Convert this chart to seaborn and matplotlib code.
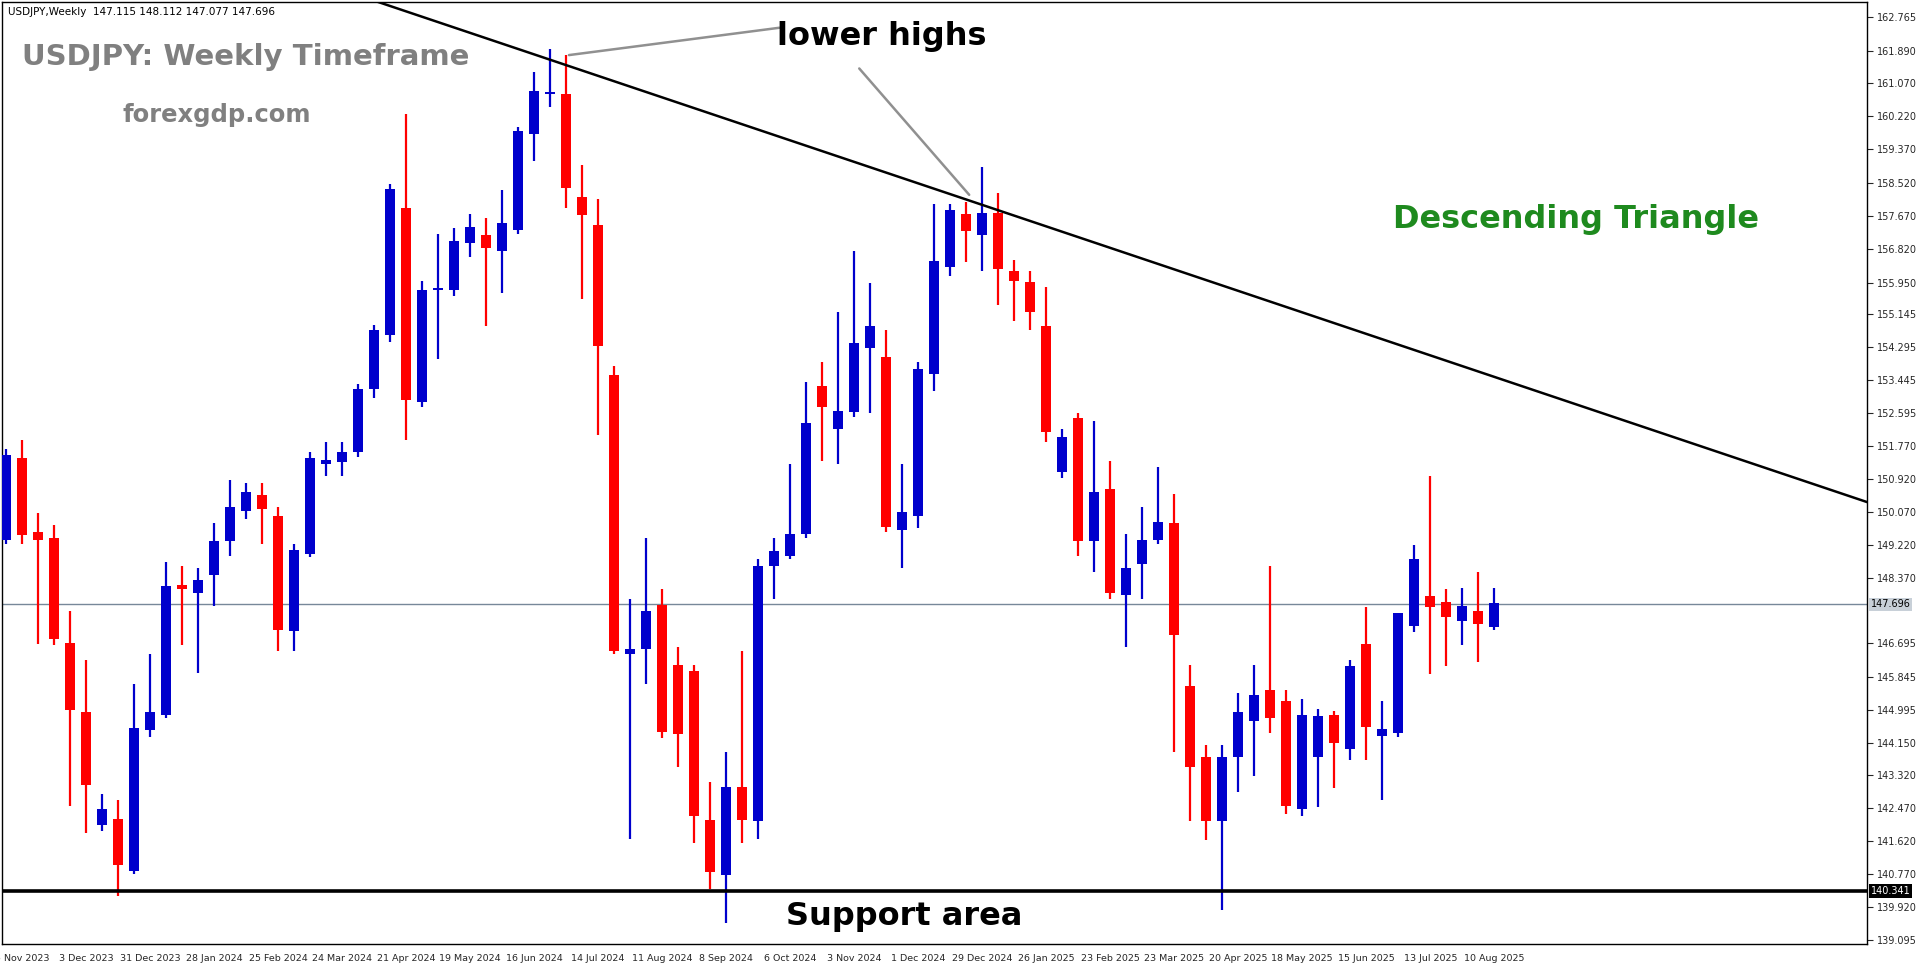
import numpy as np
import pandas as pd
import matplotlib
matplotlib.use("Agg")
import matplotlib.pyplot as plt
import seaborn as sns

# weekly USDJPY candles, first bar = week of 29 Oct 2023
opens = [149.35, 151.45, 149.54, 149.41, 146.71, 144.93, 142.04, 142.20, 140.85, 144.46,
         144.86, 148.19, 147.99, 148.44, 149.32, 150.10, 150.51, 149.97, 147.00, 149.00,
         151.30, 151.35, 151.60, 153.23, 154.61, 157.87, 152.89, 155.75, 155.77, 156.97,
         157.18, 156.75, 157.31, 159.76, 160.78, 160.80, 158.16, 157.44, 153.58, 146.43,
         146.56, 147.69, 146.15, 145.99, 142.17, 140.76, 143.01, 142.14, 148.69, 148.94,
         149.50, 153.30, 152.20, 152.64, 154.27, 154.05, 149.60, 149.97, 153.61, 156.34,
         157.72, 157.18, 157.75, 156.24, 155.96, 154.83, 151.10, 152.48, 149.32, 150.66,
         147.94, 148.72, 149.35, 149.79, 145.59, 143.77, 142.14, 143.77, 144.70, 145.49,
         145.21, 142.45, 143.77, 144.86, 143.99, 146.68, 144.33, 144.39, 147.15, 147.90,
         147.75, 147.28, 147.53, 147.12]
highs = [151.67, 151.92, 150.04, 149.72, 147.53, 146.28, 142.83, 142.67, 145.66, 146.43,
         148.78, 148.69, 148.62, 149.79, 150.88, 150.82, 150.82, 150.19, 149.25, 151.60,
         151.86, 151.86, 153.36, 154.87, 158.47, 160.29, 155.99, 157.20, 157.35, 157.72,
         157.62, 158.34, 159.94, 161.35, 161.95, 161.79, 158.97, 158.09, 153.80, 147.84,
         149.41, 148.09, 146.59, 146.15, 143.14, 143.92, 146.49, 148.85, 149.41, 151.29,
         153.39, 153.92, 155.21, 156.75, 155.93, 154.74, 151.29, 153.92, 157.97, 157.97,
         158.03, 158.91, 158.25, 156.53, 156.24, 155.84, 152.20, 152.60, 152.39, 151.38,
         149.50, 150.19, 151.23, 150.54, 146.15, 144.08, 144.08, 145.43, 146.15, 148.69,
         145.49, 145.27, 145.00, 144.96, 146.28, 147.62, 145.21, 147.47, 149.22, 150.98,
         148.09, 148.12, 148.53, 148.12]
lows = [149.25, 149.25, 146.68, 146.65, 142.51, 141.82, 141.89, 140.22, 140.79, 144.30,
        144.77, 146.65, 145.93, 147.65, 148.94, 149.88, 149.25, 146.49, 146.49, 148.90,
        151.00, 150.98, 151.48, 153.00, 154.43, 151.92, 152.76, 154.00, 155.60, 156.60,
        154.83, 155.68, 157.20, 159.07, 160.45, 157.87, 155.52, 152.04, 146.43, 141.67,
        145.65, 144.27, 143.52, 141.57, 140.38, 139.53, 141.57, 141.67, 147.84, 148.85,
        149.41, 151.38, 151.29, 152.51, 152.61, 149.54, 148.62, 149.66, 153.17, 156.12,
        156.47, 156.25, 155.37, 154.96, 154.74, 151.86, 150.95, 148.94, 148.53, 147.84,
        146.59, 147.84, 149.25, 143.92, 142.14, 141.64, 139.85, 142.89, 143.30, 144.39,
        142.32, 142.26, 142.50, 142.98, 143.70, 143.70, 142.67, 144.30, 146.99, 145.90,
        146.12, 146.65, 146.21, 147.03]
closes = [151.54, 149.47, 149.35, 146.81, 144.99, 143.05, 142.45, 141.01, 144.52, 144.93,
          148.16, 148.09, 148.31, 149.32, 150.19, 150.57, 150.13, 147.03, 149.10, 151.45,
          151.40, 151.60, 153.23, 154.74, 158.35, 152.95, 155.77, 155.80, 157.03, 157.37,
          156.84, 157.47, 159.85, 160.88, 160.80, 158.38, 157.69, 154.33, 146.49, 146.56,
          147.53, 144.43, 144.36, 142.26, 140.82, 143.01, 142.17, 148.69, 149.06, 149.50,
          152.36, 152.76, 152.67, 154.39, 154.83, 149.69, 150.07, 153.74, 156.50, 157.81,
          157.28, 157.75, 156.31, 155.99, 155.21, 152.11, 152.00, 149.32, 150.57, 148.00,
          148.62, 149.35, 149.82, 146.90, 143.52, 142.14, 143.77, 144.93, 145.36, 144.77,
          142.51, 144.86, 144.83, 144.14, 146.12, 144.55, 144.49, 147.47, 148.85, 147.62,
          147.37, 147.65, 147.18, 147.72]

price_ticks = [162.765, 161.890, 161.070, 160.220, 159.370, 158.520, 157.670, 156.820,
               155.950, 155.145, 154.295, 153.445, 152.595, 151.770, 150.920, 150.070,
               149.220, 148.370, 146.695, 145.845, 144.995, 144.150, 143.320, 142.470,
               141.620, 140.770, 139.920, 139.095]
current_price = 147.696
support_level = 140.341
trend_start = (22.9, 163.20)
trend_end = (116.3, 150.32)

sns.set_style("white")
plt.rcParams['font.family'] = ['DejaVu Sans']

BLUE = '#0000CC'
RED = '#FF0000'
W, H = 1568, 789  # layout measured on this grid

fig = plt.figure(figsize=(19.16, 9.64), dpi=100)
ax = fig.add_axes([2 / W, 1 - 773 / H, 1526 / W, 771 / H])

df = pd.DataFrame({'o': opens, 'h': highs, 'l': lows, 'c': closes})
df['i'] = np.arange(len(df))
df['up'] = df['c'] >= df['o']
for up, color in [(True, BLUE), (False, RED)]:
    d = df[df['up'] == up]
    ax.vlines(d['i'], d['l'], d['h'], color=color, linewidth=1.6, zorder=3)
    lo = np.minimum(d['o'], d['c'])
    hi = np.maximum(d['o'], d['c'])
    ax.bar(d['i'], np.maximum(hi - lo, 0.06), bottom=lo, width=0.64, color=color,
           edgecolor=color, linewidth=0, zorder=4)

ax.set_xlim(-0.23, 116.3)
ax.set_ylim(138.97, 163.14)

# reference lines
ax.axhline(current_price, color='#778899', linewidth=1, zorder=2)
ax.axhline(support_level, color='black', linewidth=2.6, zorder=5)
ax.plot([trend_start[0], trend_end[0]], [trend_start[1], trend_end[1]],
        color='black', linewidth=1.8, zorder=5)

# axes styling like MT4
for s in ax.spines.values():
    s.set_color('black')
    s.set_linewidth(1)
ax.yaxis.tick_right()
ax.set_yticks(price_ticks)
ax.set_yticklabels([f'{p:.3f}' for p in price_ticks], fontsize=7)
ax.tick_params(axis='y', length=4, pad=3)
dates = pd.date_range('2023-10-29', periods=len(df), freq='7D')
tick_idx = list(range(1, len(df), 4))
ax.set_xticks(tick_idx)
ax.set_xticklabels([f'{dates[i].day} {dates[i].strftime("%b %Y")}' for i in tick_idx], fontsize=6.8)
ax.tick_params(axis='x', length=4, pad=3)

# price labels on the right axis
ax.text(1.002, current_price, f'{current_price:.3f}', transform=ax.get_yaxis_transform(),
        fontsize=7, color='black', va='center', ha='left',
        bbox=dict(facecolor='#C8D0D8', edgecolor='none', pad=1.2))
ax.text(1.002, support_level, f'{support_level:.3f}', transform=ax.get_yaxis_transform(),
        fontsize=7, color='white', va='center', ha='left',
        bbox=dict(facecolor='black', edgecolor='none', pad=1.2))

# annotations
ax.text(0.003, 0.995, 'USDJPY,Weekly  147.115 148.112 147.077 147.696', transform=ax.transAxes,
        fontsize=7.5, va='top', ha='left', color='black')
fig.text(18 / W, 1 - 47 / H, 'USDJPY: Weekly Timeframe', fontsize=21, weight='bold',
         color='#808080', va='center', ha='left')
fig.text(100 / W, 1 - 94 / H, 'forexgdp.com', fontsize=17.5, weight='bold',
         color='#808080', va='center', ha='left')
fig.text(722 / W, 1 - 30 / H, 'lower highs', fontsize=23, weight='bold',
         color='black', va='center', ha='center')
fig.text(1290 / W, 1 - 180 / H, 'Descending Triangle', fontsize=23, weight='bold',
         color='#1E8A1E', va='center', ha='center')
fig.text(740 / W, 1 - 750 / H, 'Support area', fontsize=23, weight='bold',
         color='black', va='center', ha='center')
ax.annotate('', xy=(35.0, 161.78), xytext=(48.5, 162.5),
            arrowprops=dict(arrowstyle='-', color='#909090', linewidth=1.8))
ax.annotate('', xy=(60.3, 158.15), xytext=(53.2, 161.5),
            arrowprops=dict(arrowstyle='-', color='#909090', linewidth=1.8))

fig.savefig('out.png', dpi=100, facecolor='white')
